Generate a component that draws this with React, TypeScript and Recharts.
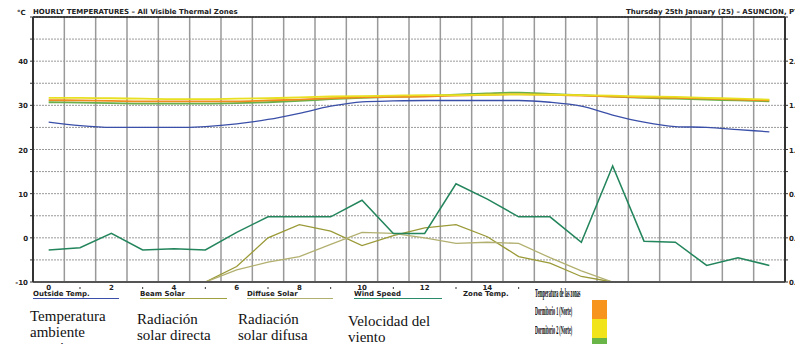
import React from 'react'
import {
  ComposedChart,
  Line,
  XAxis,
  YAxis,
  CartesianGrid,
  ReferenceLine,
} from 'recharts'

const hours = [0, 1, 2, 3, 4, 5, 6, 7, 8, 9, 10, 11, 12, 13, 14, 15, 16, 17, 18, 19, 20, 21, 22, 23]

// °C, left axis
const outsideTemp = [26.2, 25.4, 25.0, 25.0, 25.0, 25.2, 25.8, 26.8, 28.2, 29.8, 30.8, 31.0, 31.1, 31.1, 31.1, 31.1, 30.7, 29.8, 27.8, 26.2, 25.2, 25.0, 24.5, 24.0]
const dorm1 = [31.2, 31.1, 31.0, 30.9, 30.9, 30.9, 30.9, 31.1, 31.3, 31.6, 31.8, 31.9, 32.0, 32.2, 32.4, 32.5, 32.4, 32.2, 32.0, 31.8, 31.7, 31.5, 31.3, 31.1]
const dorm2 = [31.7, 31.7, 31.6, 31.5, 31.4, 31.4, 31.5, 31.6, 31.8, 32.0, 32.1, 32.2, 32.3, 32.3, 32.4, 32.5, 32.4, 32.3, 32.2, 32.0, 31.9, 31.7, 31.5, 31.3]
const dorm3 = [30.7, 30.6, 30.5, 30.4, 30.4, 30.4, 30.5, 30.7, 31.0, 31.4, 31.7, 31.9, 32.1, 32.4, 32.7, 32.9, 32.6, 32.3, 32.0, 31.7, 31.5, 31.3, 31.1, 30.9]

// right axis
const windSpeed = [0.29, 0.31, 0.44, 0.29, 0.30, 0.29, 0.45, 0.59, 0.59, 0.59, 0.74, 0.44, 0.44, 0.89, 0.75, 0.59, 0.59, 0.36, 1.05, 0.37, 0.36, 0.15, 0.22, 0.15]
const beamSolar = [0, 0, 0, 0, 0, 0, 0.14, 0.40, 0.52, 0.46, 0.33, 0.42, 0.49, 0.52, 0.41, 0.23, 0.17, 0.05, 0, 0, 0, 0, 0, 0]
const diffuseSolar = [0, 0, 0, 0, 0, 0, 0.11, 0.18, 0.23, 0.34, 0.45, 0.44, 0.40, 0.35, 0.36, 0.35, 0.22, 0.10, 0, 0, 0, 0, 0, 0]

const leftTicks = [-10, -5, 0, 5, 10, 15, 20, 25, 30, 35, 40, 45, 50]
const rightTicks = [0, 0.2, 0.4, 0.6, 0.8, 1.0, 1.2, 1.4, 1.6, 1.8, 2.0, 2.2, 2.4]
const xTicks = [0, 1, 2, 3, 4, 5, 6, 7, 8, 9, 10, 11, 12, 13, 14, 15]

const data = hours.map((h, i) => ({
  hour: h,
  outside: outsideTemp[i],
  d1: dorm1[i],
  d2: dorm2[i],
  d3: dorm3[i],
  wind: windSpeed[i],
  beam: beamSolar[i],
  diffuse: diffuseSolar[i],
}))

const small = { fontSize: 7, fontWeight: 'bold' as const, fill: '#222', fontFamily: 'DejaVu Sans' }

const LeftTick = (props: any) => {
  const { x, y, payload } = props
  const v = payload.value
  if (v % 10 !== 0 || v >= 50) return <g />
  return (
    <text x={x} y={y} dy={3} textAnchor="end" {...small}>
      {v}
    </text>
  )
}

const RightTick = (props: any) => {
  const { x, y, index } = props
  if (index % 2 !== 0 || index > 10) return <g />
  return (
    <text x={x} y={y} dy={3} textAnchor="start" {...small}>
      {rightTicks[index].toFixed(1)}
    </text>
  )
}

const BottomTick = (props: any) => {
  const { x, y, payload } = props
  const v = payload.value
  if (v % 2 !== 0) return <line x1={x} x2={x} y1={y - 1} y2={y + 1} stroke="#333" strokeWidth={1} />
  return (
    <text x={x} y={y} dy={2} textAnchor="middle" {...small}>
      {v}
    </text>
  )
}

const label: React.CSSProperties = {
  position: 'absolute',
  fontFamily: 'DejaVu Sans',
  fontWeight: 'bold',
  fontSize: 7,
  color: '#222',
  whiteSpace: 'nowrap',
}

const serif: React.CSSProperties = {
  position: 'absolute',
  fontFamily: 'Liberation Serif',
  fontSize: 15,
  lineHeight: '16px',
  color: '#111',
}

const squeeze: React.CSSProperties = {
  position: 'absolute',
  fontFamily: 'Liberation Serif',
  fontWeight: 'bold',
  fontSize: 13,
  lineHeight: '13px',
  color: '#000',
  whiteSpace: 'nowrap',
  transform: 'scaleX(0.32)',
  transformOrigin: 'left top',
}

const legendRow = [
  { name: 'Outside Temp.', left: 33, width: 86, color: '#3a4fa8' },
  { name: 'Beam Solar', left: 140, width: 87, color: '#a0a040' },
  { name: 'Diffuse Solar', left: 247, width: 86, color: '#b0b070' },
  { name: 'Wind Speed', left: 354, width: 88, color: '#2a8a6a' },
]

export default function App() {
  return (
    <div style={{ position: 'relative', width: 803, height: 352, margin: -8, overflow: 'hidden', background: '#fff' }}>
      <ComposedChart width={803} height={300} data={data} margin={{ top: 17, right: 0, bottom: 6, left: 8 }}>
        <CartesianGrid yAxisId="t" vertical={false} stroke="#999" strokeDasharray="2 1" />
        {hours.slice(0, 23).map((h) => (
          <ReferenceLine key={h} yAxisId="t" x={h + 0.5} stroke="#999" strokeWidth={1.5} />
        ))}
        <ReferenceLine yAxisId="t" y={50} stroke="#111" strokeWidth={1.5} />
        <XAxis
          dataKey="hour"
          type="number"
          domain={[-0.5, 23.5]}
          ticks={xTicks}
          interval={0}
          tick={<BottomTick />}
          tickLine={false}
          tickMargin={0}
          height={12}
          axisLine={{ stroke: '#555', strokeWidth: 2 }}
        />
        <YAxis
          yAxisId="t"
          domain={[-10, 50]}
          ticks={leftTicks}
          interval={0}
          width={25}
          tick={<LeftTick />}
          tickSize={3}
          tickMargin={2}
          tickLine={{ stroke: '#333' }}
          axisLine={{ stroke: '#333', strokeWidth: 2 }}
        />
        <YAxis
          yAxisId="r"
          orientation="right"
          domain={[0, 2.4]}
          ticks={rightTicks}
          interval={0}
          width={18}
          tick={<RightTick />}
          tickSize={3}
          tickMargin={1}
          tickLine={{ stroke: '#333' }}
          axisLine={{ stroke: '#333', strokeWidth: 2 }}
        />
        <Line yAxisId="r" dataKey="beam" type="linear" stroke="#9a9a38" strokeWidth={1.3} dot={false} isAnimationActive={false} />
        <Line yAxisId="r" dataKey="diffuse" type="linear" stroke="#b2b070" strokeWidth={1.3} dot={false} isAnimationActive={false} />
        <Line yAxisId="r" dataKey="wind" type="linear" stroke="#23855c" strokeWidth={1.5} dot={false} isAnimationActive={false} />
        <Line yAxisId="t" dataKey="outside" type="monotone" stroke="#3a4fa8" strokeWidth={1.3} dot={false} isAnimationActive={false} />
        <Line yAxisId="t" dataKey="d3" type="monotone" stroke="#6ab04a" strokeWidth={1.8} dot={false} isAnimationActive={false} />
        <Line yAxisId="t" dataKey="d1" type="monotone" stroke="#f08c1e" strokeWidth={1.8} dot={false} isAnimationActive={false} />
        <Line yAxisId="t" dataKey="d2" type="monotone" stroke="#e8e020" strokeWidth={1.8} dot={false} isAnimationActive={false} />
      </ComposedChart>

      <div style={{ ...label, left: 17, top: 9 }}>°C</div>
      <div style={{ ...label, left: 33, top: 8 }}>HOURLY TEMPERATURES – All Visible Thermal Zones</div>
      <div style={{ ...label, left: 626, top: 8 }}>Thursday 25th January (25) – ASUNCION, PY</div>

      {legendRow.map((l) => (
        <div key={l.name} style={{ ...label, left: l.left, top: 290, width: l.width, borderBottom: `1px solid ${l.color}`, lineHeight: '8px' }}>
          {l.name}
        </div>
      ))}
      <div style={{ ...label, left: 463, top: 290, lineHeight: '8px' }}>Zone Temp.</div>

      <div style={{ ...serif, left: 30, top: 308 }}>Temperatura<br />ambiente<br />exterior</div>
      <div style={{ ...serif, left: 137, top: 311 }}>Radiación<br />solar directa</div>
      <div style={{ ...serif, left: 238, top: 311 }}>Radiación<br />solar difusa</div>
      <div style={{ ...serif, left: 348, top: 313 }}>Velocidad del<br />viento</div>

      <div style={{ position: 'absolute', left: 535, top: 284, width: 250, height: 68, background: '#fff' }} />
      <div style={{ ...squeeze, left: 535, top: 286 }}>Temperatura de las zonas</div>
      <div style={{ ...squeeze, left: 535, top: 304 }}>Dormitorio 1 (Norte)</div>
      <div style={{ ...squeeze, left: 535, top: 323 }}>Dormitorio 2 (Norte)</div>
      <div style={{ ...squeeze, left: 535, top: 342 }}>Dormitorio 3 (Sur)</div>
      <div style={{ position: 'absolute', left: 592, top: 300, width: 15, height: 19, background: '#f7941d' }} />
      <div style={{ position: 'absolute', left: 592, top: 319, width: 15, height: 19, background: '#f2e41a' }} />
      <div style={{ position: 'absolute', left: 592, top: 338, width: 15, height: 14, background: '#6ab547' }} />
    </div>
  )
}
